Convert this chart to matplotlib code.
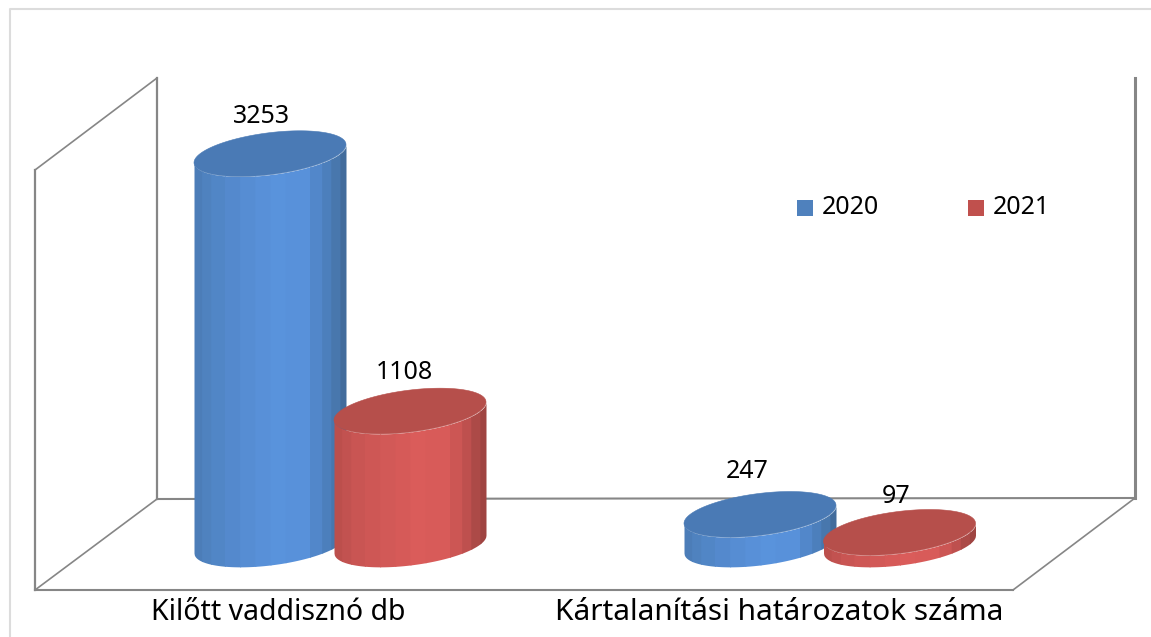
import numpy as np
import matplotlib.pyplot as plt
from matplotlib.patches import Polygon

plt.rcParams['font.family'] = ['Noto Sans', 'DejaVu Sans']

# Data
categories = ['Kilőtt vaddisznó db', 'Kártalanítási határozatok száma']
series_names = ['2020', '2021']
values_2020 = [3253, 247]
values_2021 = [1108, 97]

# Stripe colours across the cylinder (left to right)
stripe_edges = [0, .05, .11, .2, .3, .4, .5, .6, .76, .84, .9, .96, 1]
blue_stripes = ['#4C7DB8', '#4F82BF', '#5186C6', '#5489CD', '#568DD3', '#5890D8', '#5993DC',
                '#5891DA', '#5287CA', '#4C7FBC', '#4877AD', '#426C9C']
red_stripes = ['#BC4F4C', '#C25250', '#C95553', '#CE5755', '#D25957', '#D65A58', '#DA5C5A',
               '#D85B59', '#CC5654', '#BE504E', '#AC4A47', '#9F4441']
blue_top = '#4A7AB5'
red_top = '#B64F4B'
line_color = '#868686'

px_per_unit = 0.12
base_y = 544
half_w = 76
tilt = -9
half_h = 21


def y_val(p):
    # pixel row -> value on the y axis
    return (base_y - p) / px_per_unit


fig = plt.figure(figsize=(11.51, 6.37), dpi=100)
ax = fig.add_axes([0, 0, 1, 1])
ax.set_xlim(0, 1151)
ax.set_ylim(y_val(637), y_val(0))
ax.axis('off')

# Outer chart border (only left and top are in the picture)
ax.plot([10, 10, 1151], [y_val(637), y_val(9), y_val(9)], color='#DCDCDC', lw=1.5)

# Walls and floor
wall_lines = [
    ([35, 35], [170, 590], 1.6), ([35, 157], [170, 78], 1.2), ([157, 157], [78, 499], 1.6),
    ([35, 1013], [590, 590], 1.5), ([35, 157], [590, 499], 1.2), ([157, 1135], [499, 498], 1.5),
    ([1013, 1135], [590, 498], 1.2), ([1135, 1135], [78, 498], 2.2),
]
for xs, ys, w in wall_lines:
    ax.plot(xs, [y_val(p) for p in ys], color=line_color, lw=w, solid_capstyle='projecting')


def lower_arc(cx, base, xs):
    c = np.clip((xs - cx) / half_w, -1, 1)
    return base + (half_h * np.sqrt(1 - c ** 2) + tilt * c) / px_per_unit * -1


def draw_cylinder(cx, value, stripes, top_color, z):
    for i, col in enumerate(stripes):
        x0 = cx - half_w + stripe_edges[i] * 2 * half_w
        x1 = cx - half_w + stripe_edges[i + 1] * 2 * half_w
        # stripes overlap a little so no white seams show
        xs = np.linspace(x0, min(x1 + 1, cx + half_w), 30)
        ax.fill_between(xs, lower_arc(cx, value, xs), lower_arc(cx, 0, xs), color=col, lw=0, zorder=z + i * 0.01)
    t = np.linspace(0, 2 * np.pi, 200)
    ell_x = cx + half_w * np.cos(t)
    ell_y = value - (half_h * np.sin(t) + tilt * np.cos(t)) / px_per_unit
    ax.add_patch(Polygon(np.column_stack([ell_x, ell_y]), closed=True, facecolor=top_color,
                         edgecolor=top_color, lw=0.4, zorder=z + 0.5))


group_x = [340, 830]
bar_off = 70
label_off = [[(-8, 37), (-13, 43)], [(-6, 39), (-3, 36)]]
series = [values_2020, values_2021]
colors = [(blue_stripes, blue_top), (red_stripes, red_top)]

for g in range(2):
    for s in range(2):
        cx = group_x[g] + (2 * s - 1) * bar_off
        if g == 1 and s == 1:
            cx -= 0.5
        draw_cylinder(cx, series[s][g], *colors[s], 3 + s)
        dx, dy = label_off[s][g]
        ax.text(cx + dx, series[s][g] + dy / px_per_unit, str(series[s][g]), fontsize=18,
                ha='center', va='center', color='black', zorder=6)

# Category labels
ax.text(278.5, y_val(613), categories[0], fontsize=20.5, ha='center', va='center', color='black')
ax.text(779, y_val(613), categories[1], fontsize=21.5, ha='center', va='center', color='black')

# Legend
legend_x = [797, 968]
legend_cols = ['#4F81BD', '#C0504D']
for lx, name, col in zip(legend_x, series_names, legend_cols):
    ax.add_patch(Polygon([(lx, y_val(200)), (lx + 16, y_val(200)), (lx + 16, y_val(216)), (lx, y_val(216))],
                         closed=True, facecolor=col, edgecolor='none'))
    ax.text(lx + 25, y_val(208), name, fontsize=18, ha='left', va='center', color='black')

fig.savefig('out.png', dpi=100)
